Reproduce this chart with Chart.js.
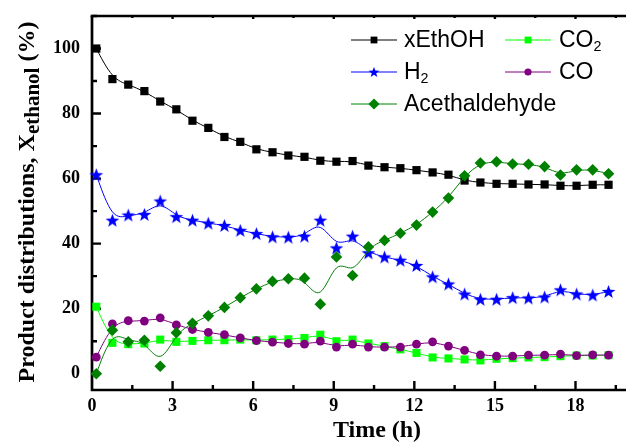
<!DOCTYPE html>
<html>
<head>
<meta charset="utf-8">
<script src="https://cdn.jsdelivr.net/npm/chart.js@4.4.0/dist/chart.umd.min.js"></script>
<style>
  html, body { margin: 0; padding: 0; background: #ffffff; overflow: hidden; }
  #wrap { width: 626px; height: 442px; position: relative; }
</style>
</head>
<body>
<div id="wrap"><canvas id="chart" width="626" height="442"></canvas></div>
<script>
// Sampling times (h)
const times = [0.16, 0.76, 1.35, 1.95, 2.54, 3.14, 3.74, 4.33, 4.93, 5.52, 6.12,
  6.72, 7.31, 7.91, 8.50, 9.10, 9.70, 10.29, 10.89, 11.48, 12.08, 12.68, 13.27,
  13.87, 14.46, 15.06, 15.66, 16.25, 16.85, 17.44, 18.04, 18.64, 19.23];

// Ethanol conversion (%)
const xEthOH = [100, 90.6, 88.9, 86.9, 83.7, 81.3, 77.8, 75.6, 72.8, 71.3, 69.0,
  68.1, 67.1, 66.7, 65.5, 65.2, 65.4, 64.0, 63.5, 63.2, 62.6, 61.9, 61.2,
  59.4, 58.8, 58.4, 58.4, 58.2, 58.2, 57.8, 57.8, 58.1, 58.1];

// Product distributions (%)
const co2 = [20.6, 9.5, 9.1, 9.3, 10.5, 9.8, 10.1, 10.3, 10.3, 10.5, 10.3,
  10.5, 10.6, 11.0, 12.0, 10.0, 10.5, 9.3, 8.5, 7.5, 6.4, 5.0, 4.7,
  4.4, 4.1, 4.6, 4.8, 5.0, 5.1, 5.4, 5.6, 5.6, 5.7];

const h2 = [61.2, 47.2, 48.8, 49.0, 53.1, 48.3, 47.2, 46.3, 45.6, 44.1, 43.1,
  42.1, 42.0, 42.3, 47.2, 38.7, 42.3, 37.2, 35.9, 34.9, 33.3, 29.8, 27.6,
  24.5, 22.9, 22.9, 23.4, 23.3, 23.6, 25.8, 24.5, 24.2, 25.3];

const co = [5.1, 15.3, 16.3, 16.2, 17.2, 15.0, 13.6, 12.7, 12.0, 11.0, 10.2,
  9.7, 9.3, 9.1, 10.0, 8.2, 9.1, 8.2, 8.2, 8.2, 9.1, 9.8, 8.5,
  7.2, 5.8, 5.4, 5.4, 5.7, 5.7, 6.0, 5.6, 5.8, 5.7];

const acetaldehyde = [0, 13.4, 9.8, 10.3, 2.3, 12.6, 15.5, 17.8, 20.4, 23.4, 26.1,
  28.4, 29.2, 29.4, 21.4, 35.9, 30.2, 39.0, 41.0, 43.2, 45.7, 49.7, 54.0,
  60.9, 64.8, 65.2, 64.5, 64.4, 63.7, 61.1, 62.7, 62.7, 61.5];

const seriesNames = ['xEthOH', 'CO₂', 'H₂', 'CO', 'Acethaldehyde'];
const xTicks = [0, 3, 6, 9, 12, 15, 18];
const yTicks = [0, 20, 40, 60, 80, 100];
const xTitle = 'Time (h)';
const yTitle = ['Product distributions, X', 'ethanol', ' (%)'];

// Five-pointed star marker rendered once into a small canvas
function starMarker(R, color) {
  const s = Math.ceil(2 * R + 2);
  const c = document.createElement('canvas');
  c.width = s; c.height = s;
  const g = c.getContext('2d');
  g.fillStyle = color;
  g.beginPath();
  for (let i = 0; i < 10; i++) {
    const r = i % 2 ? R * 0.42 : R;
    const a = -Math.PI / 2 + i * Math.PI / 5;
    g.lineTo(s / 2 + r * Math.cos(a), s / 2 + r * Math.sin(a) + 0.6);
  }
  g.closePath();
  g.fill();
  return c;
}

const styles = [
  { color: '#000000', marker: 'rect',    radius: 5.8, legendSize: 3.4 },
  { color: '#00ff00', marker: 'rect',    radius: 5.7, legendSize: 3.4 },
  { color: '#0000ff', marker: 'star',    radius: 7.2, legendSize: 5.6 },
  { color: '#800080', marker: 'circle',  radius: 4.4, legendSize: 3.6 },
  { color: '#008000', marker: 'rectRot', radius: 5.8, legendSize: 5.6 }
];
const seriesValues = [xEthOH, co2, h2, co, acetaldehyde];

const datasets = seriesValues.map((vals, i) => {
  const st = styles[i];
  return {
    label: seriesNames[i],
    data: times.map((t, k) => ({ x: t, y: vals[k] })),
    showLine: false,
    borderColor: st.color,
    backgroundColor: st.color,
    pointStyle: st.marker === 'star' ? starMarker(st.radius, st.color) : st.marker,
    pointRadius: st.radius,
    pointBorderWidth: 0,
    pointBackgroundColor: st.color,
    order: seriesValues.length - 1 - i,
    clip: false
  };
});

// Smooth B-spline connecting each series, drawn just before its markers
const bsplinePlugin = {
  id: 'bspline',
  beforeDatasetDraw(chart, args) {
    const pts = args.meta.data.map(p => ({ x: p.x, y: p.y }));
    if (pts.length < 2) return;
    const n = pts.length;
    const P = [pts[0], pts[0]].concat(pts, [pts[n - 1], pts[n - 1]]);
    const ctx = chart.ctx;
    const a = chart.chartArea;
    ctx.save();
    ctx.beginPath();
    ctx.rect(a.left, a.top, a.right - a.left, a.bottom - a.top);
    ctx.clip();
    ctx.beginPath();
    for (let i = 0; i + 3 < P.length; i++) {
      const p0 = P[i], p1 = P[i + 1], p2 = P[i + 2], p3 = P[i + 3];
      const b0x = (p0.x + 4 * p1.x + p2.x) / 6, b0y = (p0.y + 4 * p1.y + p2.y) / 6;
      const b1x = (2 * p1.x + p2.x) / 3, b1y = (2 * p1.y + p2.y) / 3;
      const b2x = (p1.x + 2 * p2.x) / 3, b2y = (p1.y + 2 * p2.y) / 3;
      const b3x = (p1.x + 4 * p2.x + p3.x) / 6, b3y = (p1.y + 4 * p2.y + p3.y) / 6;
      if (i === 0) ctx.moveTo(b0x, b0y);
      ctx.bezierCurveTo(b1x, b1y, b2x, b2y, b3x, b3y);
    }
    ctx.strokeStyle = chart.data.datasets[args.index].borderColor;
    ctx.lineWidth = 1;
    ctx.stroke();
    ctx.restore();
  }
};

// Axis frame with inward major/minor ticks
const framePlugin = {
  id: 'frame',
  beforeDatasetsDraw(chart) {
    const ctx = chart.ctx, a = chart.chartArea;
    const xs = chart.scales.x, ys = chart.scales.y;
    ctx.save();
    ctx.strokeStyle = '#000';
    ctx.lineCap = 'butt';
    ctx.lineWidth = 2.7;
    ctx.beginPath();
    ctx.moveTo(a.left, a.top); ctx.lineTo(a.left, a.bottom + 1.35);
    ctx.moveTo(a.left - 1.35, a.bottom); ctx.lineTo(a.right, a.bottom);
    ctx.stroke();
    ctx.lineWidth = 2.4;
    ctx.beginPath();
    ctx.moveTo(a.left - 1.35, a.top); ctx.lineTo(a.right, a.top);
    ctx.stroke();

    ctx.lineWidth = 2.4;
    ctx.beginPath();
    const xStep = xTicks[1] - xTicks[0];
    for (let v = xTicks[0]; v <= xs.max + 1e-9; v += xStep / 2) {
      const px = xs.getPixelForValue(v);
      const major = Math.abs(v / xStep - Math.round(v / xStep)) < 1e-6;
      if (v > 0) {
        ctx.moveTo(px, a.bottom); ctx.lineTo(px, a.bottom - (major ? 9 : 5));
        ctx.moveTo(px, a.top); ctx.lineTo(px, a.top + (major ? 3 : 2));
      }
    }
    const yStep = yTicks[1] - yTicks[0];
    for (let v = yTicks[0]; v <= ys.max + 1e-9; v += yStep / 2) {
      const py = ys.getPixelForValue(v);
      const major = Math.abs(v / yStep - Math.round(v / yStep)) < 1e-6;
      ctx.moveTo(a.left, py); ctx.lineTo(a.left + (major ? 9 : 5), py);
    }
    ctx.stroke();
    ctx.restore();
  }
};

// Draws text where "₂" is rendered as a lowered, smaller 2
function drawLabel(ctx, text, x, y, size) {
  let cx = x;
  for (const ch of text) {
    if (ch === '₂') {
      ctx.font = (size * 0.62).toFixed(1) + 'px "Liberation Sans", Arial, sans-serif';
      ctx.fillText('2', cx, y + size * 0.2);
      cx += ctx.measureText('2').width;
    } else {
      ctx.font = size + 'px "Liberation Sans", Arial, sans-serif';
      ctx.fillText(ch, cx, y);
      cx += ctx.measureText(ch).width;
    }
  }
}

function drawMarker(ctx, kind, x, y, s, color) {
  ctx.fillStyle = color;
  ctx.beginPath();
  if (kind === 'rect') {
    ctx.rect(x - s, y - s, 2 * s, 2 * s);
  } else if (kind === 'circle') {
    ctx.arc(x, y, s, 0, Math.PI * 2);
  } else if (kind === 'rectRot') {
    ctx.moveTo(x, y - s); ctx.lineTo(x + s, y); ctx.lineTo(x, y + s); ctx.lineTo(x - s, y);
    ctx.closePath();
  } else if (kind === 'star') {
    for (let i = 0; i < 10; i++) {
      const r = i % 2 ? s * 0.42 : s;
      const ang = -Math.PI / 2 + i * Math.PI / 5;
      ctx.lineTo(x + r * Math.cos(ang), y + r * Math.sin(ang) + 0.5);
    }
    ctx.closePath();
  }
  ctx.fill();
}

// Two-column legend inside the plot
const legendPlugin = {
  id: 'innerLegend',
  afterDraw(chart) {
    const ctx = chart.ctx;
    const cols = [{ x0: 351, x1: 397, tx: 404 }, { x0: 505, x1: 551, tx: 559 }];
    const rows = [40, 72, 104];
    const slots = [[0, 0], [0, 1], [1, 0], [1, 1], [2, 0]];
    ctx.save();
    ctx.textBaseline = 'alphabetic';
    ctx.textAlign = 'left';
    slots.forEach(([r, c], i) => {
      const st = styles[i];
      const col = cols[c], y = rows[r];
      ctx.strokeStyle = st.color;
      ctx.lineWidth = 1;
      ctx.beginPath();
      ctx.moveTo(col.x0, y); ctx.lineTo(col.x1, y);
      ctx.stroke();
      drawMarker(ctx, st.marker, (col.x0 + col.x1) / 2, y, st.legendSize, st.color);
      ctx.fillStyle = '#000';
      drawLabel(ctx, seriesNames[i], col.tx, y + 6.7, 23);
    });
    ctx.restore();
  }
};

// Axis titles (the y title carries a subscript)
const titlesPlugin = {
  id: 'axisTitles',
  afterDraw(chart) {
    const ctx = chart.ctx;
    ctx.save();
    ctx.fillStyle = '#000';
    ctx.textBaseline = 'alphabetic';
    ctx.textAlign = 'center';
    ctx.font = 'bold 24px "Liberation Serif", "Times New Roman", serif';
    ctx.fillText(xTitle, 377, 437);

    const mainFont = 'bold 24px "Liberation Serif", "Times New Roman", serif';
    const subFont = 'bold 21px "Liberation Serif", "Times New Roman", serif';
    ctx.font = mainFont; const w1 = ctx.measureText(yTitle[0]).width;
    ctx.font = subFont; const w2 = ctx.measureText(yTitle[1]).width;
    ctx.font = mainFont; const w3 = ctx.measureText(yTitle[2]).width;
    const total = w1 + w2 + w3;
    ctx.translate(34, 202);
    ctx.rotate(-Math.PI / 2);
    ctx.textAlign = 'left';
    let x = -total / 2;
    ctx.font = mainFont; ctx.fillText(yTitle[0], x, 0); x += w1;
    ctx.font = subFont; ctx.fillText(yTitle[1], x, 5); x += w2;
    ctx.font = mainFont; ctx.fillText(yTitle[2], x, 0);
    ctx.restore();
  }
};

const tickFont = { family: '"Liberation Serif", "Times New Roman", serif', size: 18, weight: 'bold' };

new Chart(document.getElementById('chart'), {
  type: 'scatter',
  data: { datasets },
  options: {
    responsive: false,
    animation: false,
    devicePixelRatio: 1,
    layout: { padding: { left: 0, right: 0, top: 16, bottom: 0 }, autoPadding: false },
    plugins: { legend: { display: false }, tooltip: { enabled: false } },
    scales: {
      x: {
        type: 'linear',
        min: 0,
        max: 19.88,
        afterBuildTicks: s => { s.ticks = xTicks.map(v => ({ value: v })); },
        afterFit: s => { s.height = 52; s.paddingLeft = 0; s.paddingRight = 0; },
        grid: { display: false, drawTicks: false },
        border: { display: false },
        ticks: { font: tickFont, color: '#000', padding: 6, maxRotation: 0, autoSkip: false }
      },
      y: {
        type: 'linear',
        min: -5,
        max: 110,
        afterBuildTicks: s => { s.ticks = yTicks.map(v => ({ value: v })); },
        afterFit: s => { s.width = 92; s.paddingTop = 0; s.paddingBottom = 0; },
        grid: { display: false, drawTicks: false },
        border: { display: false },
        ticks: { font: tickFont, color: '#000', padding: 12, autoSkip: false }
      }
    }
  },
  plugins: [framePlugin, bsplinePlugin, legendPlugin, titlesPlugin]
});
</script>
</body>
</html>
